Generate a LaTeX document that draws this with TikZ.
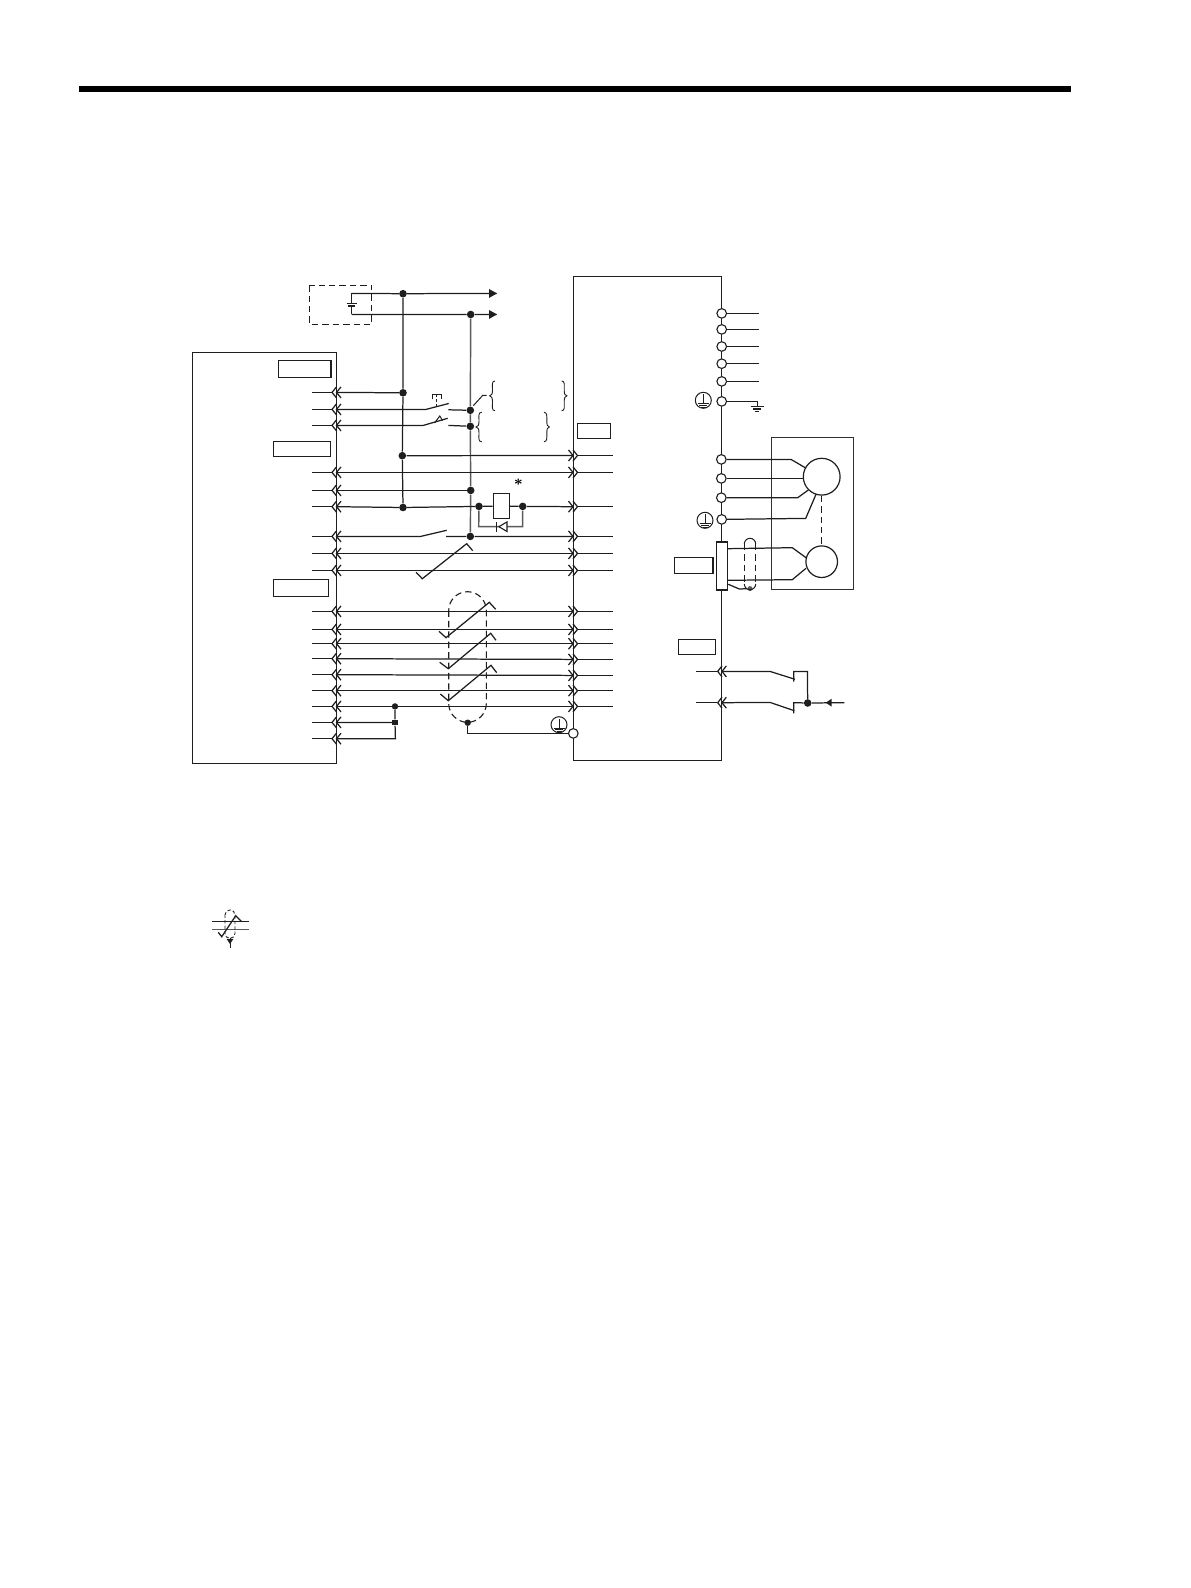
\documentclass[tikz,border=0pt]{standalone}
\definecolor{ink}{HTML}{1E1E1E}
\definecolor{soft}{HTML}{5A5A5A}
\definecolor{motorline}{HTML}{303030}
\tikzset{
  x=0.5pt,y=-0.5pt,
  wire/.style={draw=ink,line width=0.62pt,line join=miter},
  softwire/.style={draw=soft,line width=0.72pt},
  thin box/.style={draw=ink,line width=0.62pt,fill=white},
  labelbox/.style={draw=ink,line width=0.62pt,fill=white,inner sep=0pt},
  junction/.style={circle,fill=ink,draw=none,minimum size=3.8pt,inner sep=0pt},
  terminal/.style={circle,draw=ink,line width=0.55pt,fill=white,minimum size=4.8pt,inner sep=0pt},
  dashwire/.style={draw=ink,line width=0.55pt,dash pattern=on 3.2pt off 2pt},
  pgnd/.style={circle,draw=ink,line width=0.5pt,fill=white,minimum size=8pt,inner sep=0pt}
}
% chevron pair on the left box edge / right box edge
\newcommand{\LeftPlug}[2]{%
  \draw[wire] (311.7,#2)--(331.5,#2);
  \draw[wire] (336.5,#2-5.5)--(332,#2)--(336.5,#2+5.5);
  \draw[wire] (341,#2-5.5)--(336.5,#2)--(341,#2+5.5);
  \coordinate (#1) at (336.5,#2);}
\newcommand{\RightPlug}[2]{%
  \draw[wire] (577.5,#2)--(612.7,#2);
  \draw[wire] (568.5,#2-5.5)--(573,#2)--(568.5,#2+5.5);
  \draw[wire] (573,#2-5.5)--(577.5,#2)--(573,#2+5.5);
  \coordinate (#1) at (573,#2);}
\newcommand{\PEmark}[3]{%
  \node[pgnd] (#1) at (#2,#3) {};
  \draw[wire,line width=0.45pt] (#2,#3-6)--(#2,#3+3.5) (#2-5.5,#3+3.5)--(#2+5.5,#3+3.5) (#2-4,#3+5.2)--(#2+4,#3+5.2) (#2-2.5,#3+7)--(#2+2.5,#3+7);}
\newcommand{\Twist}[8]{\draw[wire] (#1,#2)--(#3,#4)--(#5,#6)--(#7,#8);}
\begin{document}
\begin{tikzpicture}
\useasboundingbox (0,0) rectangle (1190,1588);
% header rule
\fill[black] (79,86) rectangle (1070.7,92.3);

% left controller box
\draw[thin box] (192.4,352.4) rectangle (336.4,763.4);
\node[labelbox,minimum width=26.4pt,minimum height=8.6pt] (lbA) at (304.6,369) {};
\node[labelbox,minimum width=28.7pt,minimum height=7.7pt] (lbB) at (302,449) {};
\node[labelbox,minimum width=27.5pt,minimum height=8.5pt] (lbC) at (300.8,587.8) {};

% right drive box
\draw[thin box] (573.3,276.4) -- (721.7,276.4) -- (721.7,760.4) -- (573.3,760.4) -- cycle;
\node[labelbox,minimum width=16.7pt,minimum height=7.7pt] (lbD) at (594,431) {};
\node[labelbox,minimum width=19.4pt,minimum height=7.8pt] (lbE) at (693.6,565.5) {};
\node[labelbox,minimum width=18.5pt,minimum height=7.7pt] (lbF) at (696.8,647) {};

% external supply
\draw[dashwire,line width=0.6pt] (309.3,285.3) rectangle (371.7,324.3);
\coordinate (batT) at (351.7,293.4);
\coordinate (batB) at (351.7,314.4);
\coordinate (batP) at (351.7,303.6);
\coordinate (batN) at (351.7,306);
\draw[wire] (batP)--(batT) (batN)--(batB);
\draw[wire] (346.7,303.6)--(356.7,303.6) (348,306)--(355,306);

% power rails
\node[junction] (p1) at (403,293.7) {};
\node[junction] (n1) at (470.7,314.5) {};
\coordinate (arP) at (496.7,293.4);
\coordinate (arN) at (496.7,314.4);
\draw[wire] (batT)--(p1)--(arP);
\draw[wire] (batB)--(n1)--(arN);
\fill[ink] (489,289)--(497,293.4)--(489,298)--cycle;
\fill[ink] (489,310)--(497,314.4)--(489,319)--cycle;
\node[junction] (p2) at (403,392.8) {};
\node[junction] (p3) at (402.3,455.7) {};
\node[junction] (p4) at (403,507.5) {};
\draw[wire] (p1)--(p2)--(p3)--(p4);

\node[junction] (n2) at (470.3,410.3) {};
\node[junction] (n3) at (470.3,426.3) {};
\node[junction] (n4) at (470.7,490.4) {};
\node[junction] (n5) at (470.3,536.4) {};
\draw[softwire] (n1)--(n2)--(n3)--(n4)--(n5);

% left plugs
\LeftPlug{La}{392.4}
\LeftPlug{Lb}{409.4}
\LeftPlug{Lc}{425.4}
\LeftPlug{Ld}{472.4}
\LeftPlug{Le}{490.4}
\LeftPlug{Lf}{506.7}
\LeftPlug{Lg}{536.4}
\LeftPlug{Lh}{553.4}
\LeftPlug{Li}{570.4}
\LeftPlug{Lj}{611.4}
\LeftPlug{Lk}{629.4}
\LeftPlug{Ll}{643.7}
\LeftPlug{Lm}{658.7}
\LeftPlug{Ln}{674.7}
\LeftPlug{Lo}{690.7}
\LeftPlug{Lp}{706.4}
\LeftPlug{Lq}{722.4}
\LeftPlug{Lr}{738.7}

% right plugs
\RightPlug{Ra}{455.5}
\RightPlug{Rb}{472.4}
\RightPlug{Rc}{506.7}
\RightPlug{Rd}{536.4}
\RightPlug{Re}{553.4}
\RightPlug{Rf}{570.4}
\RightPlug{Rg}{611.4}
\RightPlug{Rh}{629.4}
\RightPlug{Ri}{643.7}
\RightPlug{Rj}{659.4}
\RightPlug{Rk}{675.4}
\RightPlug{Rl}{690.7}
\RightPlug{Rm}{706.4}

% straight wires
\draw[wire] (La)--(p2);
\draw[wire] (p3)--(Ra);
\draw[wire] (Ld)--(Rb);
\draw[wire] (Le)--(n4);
\draw[wire] (Lh)--(Re);
\draw[wire] (Li)--(Rf);
\draw[wire] (Lj)--(Rg);
\draw[wire] (Lk)--(Rh);
\draw[wire] (Ll)--(Ri);
\draw[wire] (Lm)--(Rj);
\draw[wire] (Ln)--(Rk);
\draw[wire] (Lo)--(Rl);
\draw[wire] (Lp)--(Rm);

% switches
\coordinate (s1a) at (426,409.4);
\coordinate (s1b) at (448.7,403.5);
\coordinate (s1c) at (448.3,409.8);
\draw[wire] (Lb)--(s1a)--(s1b) (s1c)--(n2);
\draw[wire,line width=0.45pt] (432.7,399.5)--(432.7,394.5)--(441,394.5)--(441,399.5);
\draw[wire,line width=0.45pt,dash pattern=on 1.5pt off 1pt] (436.8,394.5)--(436.8,406);
\coordinate (s2a) at (423.3,425.4);
\coordinate (s2b) at (447.7,418.3);
\coordinate (s2c) at (448.3,425.4);
\draw[wire] (Lc)--(s2a)--(s2b) (s2c)--(n3);
\draw[wire,line width=0.5pt] (434.5,423)--(439.8,416)--(442.5,420.5);
\coordinate (s3a) at (420.7,536.4);
\coordinate (s3b) at (446.7,530.3);
\coordinate (s3c) at (446,536.4);
\draw[wire] (Lg)--(s3a)--(s3b) (s3c)--(n5)--(Rd);

% braces and tick
\coordinate (tk) at (473.3,405.7);
\draw[wire,line width=0.5pt] (tk)--(482.7,395.4)--(486.7,395.4);
\draw[wire,line width=0.45pt] (495,381) .. controls (491.5,381) and (492.5,385) .. (492.5,390) .. controls (492.5,394) and (491.5,395.7) .. (489.7,395.8) .. controls (491.5,396) and (492.5,398) .. (492.5,402) .. controls (492.5,407) and (491.5,410.7) .. (495,410.7);
\draw[wire,line width=0.45pt] (561.7,381) .. controls (565,381) and (564.2,385) .. (564.2,390) .. controls (564.2,394) and (565,395.7) .. (566.9,395.8) .. controls (565,396) and (564.2,398) .. (564.2,402) .. controls (564.2,407) and (565,410.7) .. (561.7,410.7);
\draw[wire,line width=0.45pt] (481.7,412.3) .. controls (478,412.3) and (479,416) .. (479,421) .. controls (479,425) and (478,426.9) .. (476,427) .. controls (478,427.1) and (479,429) .. (479,433) .. controls (479,438) and (478,441.7) .. (481.7,441.7);
\draw[wire,line width=0.45pt] (544,412.3) .. controls (547.3,412.3) and (546.8,416) .. (546.8,421) .. controls (546.8,425) and (547.5,426.9) .. (549.4,427) .. controls (547.5,427.1) and (546.8,429) .. (546.8,433) .. controls (546.8,438) and (547.3,441.7) .. (544,441.7);

% relay
\node[junction] (rl) at (479,506.4) {};
\node[junction] (rr) at (522.7,506.4) {};
\node[draw=ink,line width=0.62pt,fill=white,minimum width=8pt,minimum height=12.7pt,inner sep=0pt] (relay) at (501.3,506) {};
\draw[wire] (Lf)--(p4)--(rl)--(relay)--(rr)--(Rc);
\coordinate (dl) at (478.7,526.7);
\coordinate (dr) at (522.7,526.7);
\draw[softwire] (rl)--(dl)--(dr)--(rr);
\draw[draw=ink,line width=0.55pt,fill=white] (507,521.9)--(498.9,526.7)--(507,531.5)--cycle;
\draw[draw=ink,line width=0.55pt] (496.7,522)--(496.7,531.5);
\node[inner sep=0pt,font=\fontsize{7}{7}\selectfont\bfseries] (star) at (518.3,484.2) {*};

% twisted pair marks
\Twist{416}{572.3}{422.3}{578.7}{466.7}{543.7}{472.7}{550.7}
\Twist{439}{631.3}{446}{637.7}{489.3}{602.3}{495.7}{609.3}
\Twist{439.7}{662.3}{448.3}{668.7}{490.7}{633.3}{496}{640.3}
\Twist{440.3}{694}{448.3}{700.7}{491}{665.3}{496.7}{672.7}

% shield
\draw[dashwire,rounded corners=9.4pt] (448.7,591.7) rectangle (486.3,722.3);
\node[junction,minimum size=3.2pt] (sh) at (467.7,722.7) {};
\node[terminal] (fg) at (573.3,733.4) {};
\draw[wire] (sh) |- (fg);
\PEmark{peS}{559}{724.7}

% common returns
\node[junction,minimum size=3.2pt] (cA) at (395,706.4) {};
\node[fill=ink,minimum size=2.8pt,inner sep=0pt] (cB) at (395,722.6) {};
\coordinate (cC) at (395.4,738.7);
\draw[wire] (cA)--(cB)--(cC)--(Lr);
\draw[wire] (Lq)--(cB);

% right terminals
\foreach \nm/\yy in {tA/313.4,tB/329.4,tC/346.5,tD/363.7,tE/381.4}{
  \node[terminal] (\nm) at (721.7,\yy) {};
  \coordinate (\nm o) at (759.3,\yy);
  \draw[wire] (\nm)--(\nm o);
}
\node[terminal] (tF) at (721.7,401.4) {};
\coordinate (gnd) at (757.3,406.7);
\draw[wire] (tF) -| (gnd);
\draw[wire] (750.7,406.7)--(764,406.7) (753.3,409)--(761.3,409) (755.3,411.3)--(759.3,411.3);
\PEmark{peA}{703.3}{400.3}

% motor
\draw[draw=motorline,line width=0.62pt] (771.4,437.4) rectangle (853.4,589.4);
\node[terminal,draw=ink] (tU) at (721.3,459.4) {};
\node[terminal] (tV) at (721.3,478.4) {};
\node[terminal] (tW) at (721.3,497.7) {};
\node[terminal] (tG) at (721.7,519.4) {};
\PEmark{peB}{705}{520.3}
\node[circle,draw=ink,line width=0.6pt,fill=white,minimum size=18.4pt,inner sep=0pt] (mot) at (821.7,476.7) {};
\draw[wire] (tU)--(791,459.4)--(805.7,468);
\draw[wire] (tV)--(803.3,478.4);
\draw[wire] (tW)--(797.7,497.7)--(808.3,490);
\draw[wire] (tG)--(805.7,518.4)--(816,494.3);

% encoder
\node[circle,draw=ink,line width=0.6pt,fill=white,minimum size=15.8pt,inner sep=0pt] (enc) at (821.7,561.7) {};
\draw[dashwire] (mot)--(enc);
\node[thin box,minimum width=5.5pt,minimum height=24pt,inner sep=0pt] (cn) at (721.8,566) {};
\draw[wire] (727.3,548.7)--(792.3,547.7)--(806,557.7);
\draw[wire] (727.3,580.3)--(792.3,579.7)--(806,568.3);
\node[junction,minimum size=2.5pt,fill=soft] (es) at (750,588.6) {};
\draw[wire] (728.3,584.3)--(739.3,589)--(es);
\draw[dashwire,line width=0.5pt] (744.3,544)--(744.3,584) (755.7,544)--(755.7,584);
\draw[wire,line width=0.5pt] (744.3,544) arc[start angle=180,end angle=360,radius=5.7];
\draw[wire,line width=0.5pt] (755.7,584) arc[start angle=0,end angle=180,radius=5.7];

% brake relay contacts
\coordinate (bA) at (721.7,671.4);
\coordinate (bB) at (721.7,702.7);
\foreach \nm/\yy in {bA/671.4,bB/702.7}{
  \draw[wire] (696,\yy)--(717.3,\yy);
  \draw[wire] (722,\yy-5.5)--(717.7,\yy)--(722,\yy+5.5);
  \draw[wire] (726.3,\yy-5.5)--(722,\yy)--(726.3,\yy+5.5);
}
\node[junction] (bj) at (807.7,703) {};
\coordinate (bt) at (807.4,671.4);
\coordinate (bl) at (793.7,671.4);
\coordinate (bm) at (793.7,702.7);
\coordinate (bs) at (844.3,702.7);
\draw[wire] (bA)--(770,671.4)--(795,679.3);
\draw[wire] (793.7,681.5)--(bl)--(bt)--(bj);
\draw[wire] (bB)--(770,702.4)--(794.3,710.7);
\draw[wire] (793.7,713.3)--(bm)--(bj)--(bs);
\fill[ink] (825.7,702.7)--(831.7,698.7)--(831.7,706.7)--cycle;

% legend symbol
\coordinate (lgA) at (212.3,921.7);
\coordinate (lgB) at (249,921.7);
\coordinate (lgC) at (212.3,929.4);
\coordinate (lgD) at (249,929.4);
\draw[wire] (lgA)--(lgB);
\draw[draw=soft,line width=0.62pt] (lgC)--(lgD);
\draw[dashwire,line width=0.45pt,dash pattern=on 1.6pt off 1.1pt,rounded corners=2.4pt] (225,910) rectangle (235,938.3);
\Twist{218.3}{932.3}{221.7}{936.7}{235.7}{915.7}{241.7}{921.7}
\coordinate (lgT) at (230,938.3);
\coordinate (lgE) at (230,947.7);
\draw[wire,line width=0.5pt] (lgT)--(lgE);
\fill[ink] (226.5,938.8)--(233.5,938.8)--(230,944)--cycle;
\end{tikzpicture}
\end{document}
